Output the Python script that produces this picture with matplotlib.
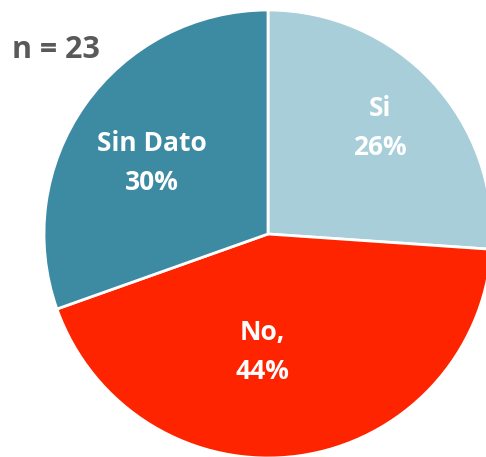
import matplotlib.pyplot as plt
import numpy as np

# data
categories = ['Si', 'No,', 'Sin Dato']
counts = [6, 10, 7]
pct_labels = ['26%', '44%', '30%']
colors = ['#A8CEDA', '#FF2400', '#3D8BA3']

fig = plt.figure(figsize=(4.86, 4.57), dpi=100)
ax = fig.add_axes([0, 0, 1, 1])

wedges, _ = ax.pie(counts, colors=colors, startangle=90, counterclock=False,
                   radius=1, wedgeprops=dict(edgecolor='white', linewidth=2))

# label positions (x, y in radius units)
label_pos = [(0.5, 0.473), (-0.027, -0.527), (-0.518, 0.317)]
for cat, p, (x, y) in zip(categories, pct_labels, label_pos):
    ax.text(x, y, cat + '\n' + p, ha='center', va='center', color='white',
            fontsize=19, fontweight='bold', family='Open Sans', linespacing=1.6)

ax.text(-1.143, 0.82, 'n = 23', ha='left', va='center', color='#595959',
        fontsize=22, fontweight='bold', family='Open Sans')

r = 224
cx, cy = 268, 234
ax.set_xlim(-cx / r, (486 - cx) / r)
ax.set_ylim(-(457 - cy) / r, cy / r)
ax.set_aspect('auto')
ax.axis('off')

fig.savefig('out.png', dpi=100)
